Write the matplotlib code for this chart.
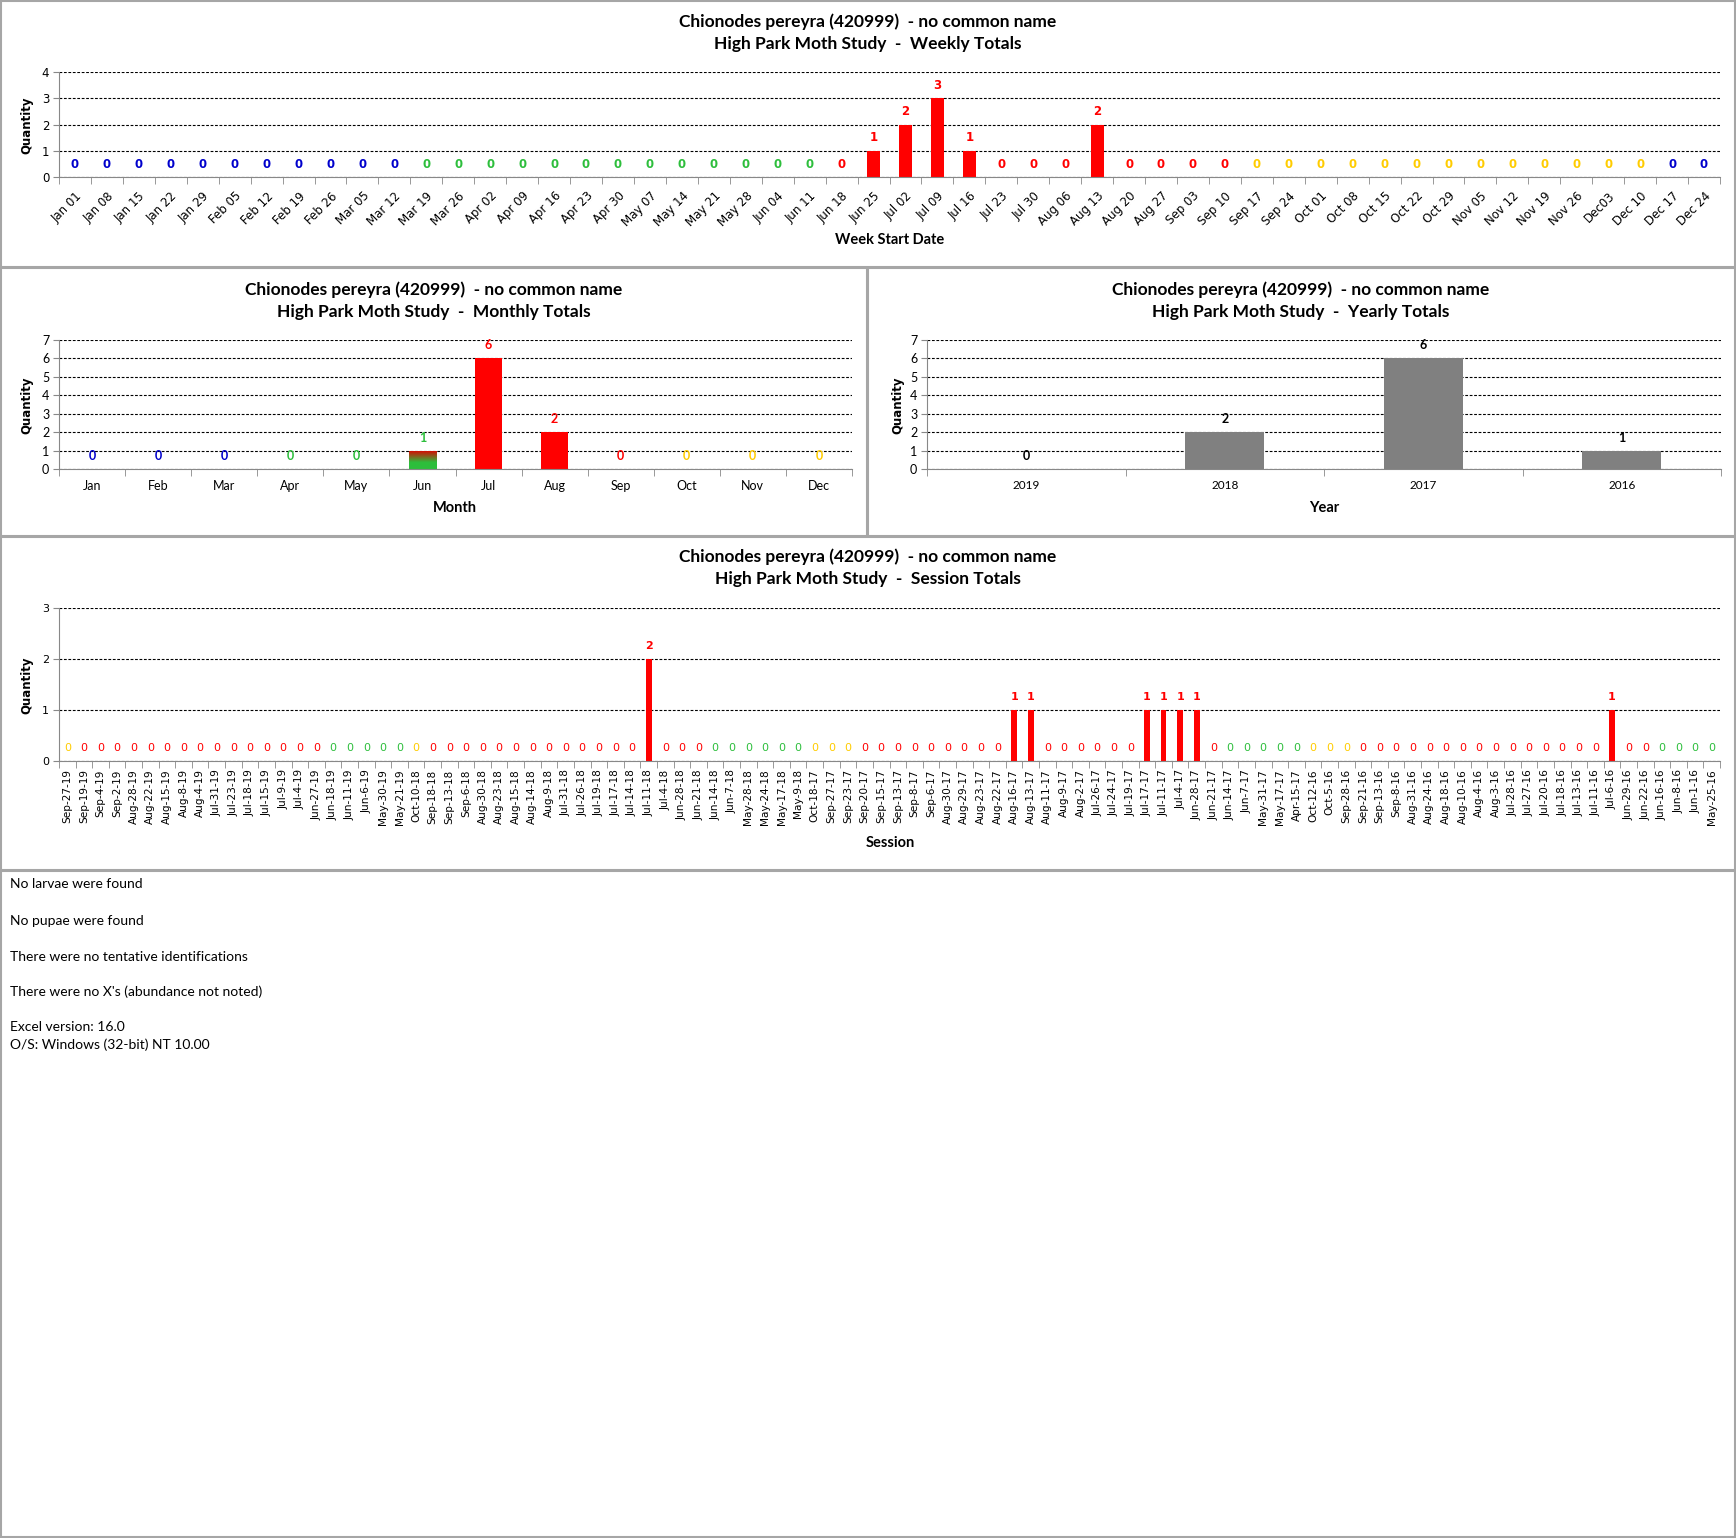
import matplotlib
matplotlib.use("Agg")
import matplotlib.pyplot as plt
import numpy as np
from matplotlib.patches import Rectangle
from matplotlib.colors import LinearSegmentedColormap

# ---- data ----
species = "Chionodes pereyra (420999)  - no common name"
study = "High Park Moth Study  -  "

weeks = ["Jan 01", "Jan 08", "Jan 15", "Jan 22", "Jan 29", "Feb 05", "Feb 12", "Feb 19",
         "Feb 26", "Mar 05", "Mar 12", "Mar 19", "Mar 26", "Apr 02", "Apr 09", "Apr 16",
         "Apr 23", "Apr 30", "May 07", "May 14", "May 21", "May 28", "Jun 04", "Jun 11",
         "Jun 18", "Jun 25", "Jul 02", "Jul 09", "Jul 16", "Jul 23", "Jul 30", "Aug 06",
         "Aug 13", "Aug 20", "Aug 27", "Sep 03", "Sep 10", "Sep 17", "Sep 24", "Oct 01",
         "Oct 08", "Oct 15", "Oct 22", "Oct 29", "Nov 05", "Nov 12", "Nov 19", "Nov 26",
         "Dec03", "Dec 10", "Dec 17", "Dec 24"]
week_counts = [0] * 25 + [1, 2, 3, 1, 0, 0, 0, 2] + [0] * 19

months = ["Jan", "Feb", "Mar", "Apr", "May", "Jun", "Jul", "Aug", "Sep", "Oct", "Nov", "Dec"]
month_counts = [0, 0, 0, 0, 0, 1, 6, 2, 0, 0, 0, 0]

years = ["2019", "2018", "2017", "2016"]
year_counts = [0, 2, 6, 1]

sessions = ["Sep-27-19", "Sep-19-19", "Sep-4-19", "Sep-2-19", "Aug-28-19", "Aug-22-19",
            "Aug-15-19", "Aug-8-19", "Aug-4-19", "Jul-31-19", "Jul-23-19", "Jul-18-19",
            "Jul-15-19", "Jul-9-19", "Jul-4-19", "Jun-27-19", "Jun-18-19", "Jun-11-19",
            "Jun-6-19", "May-30-19", "May-21-19", "Oct-10-18", "Sep-18-18", "Sep-13-18",
            "Sep-6-18", "Aug-30-18", "Aug-23-18", "Aug-15-18", "Aug-14-18", "Aug-9-18",
            "Jul-31-18", "Jul-26-18", "Jul-19-18", "Jul-17-18", "Jul-14-18", "Jul-11-18",
            "Jul-4-18", "Jun-28-18", "Jun-21-18", "Jun-14-18", "Jun-7-18", "May-28-18",
            "May-24-18", "May-17-18", "May-9-18", "Oct-18-17", "Sep-27-17", "Sep-23-17",
            "Sep-20-17", "Sep-15-17", "Sep-13-17", "Sep-8-17", "Sep-6-17", "Aug-30-17",
            "Aug-29-17", "Aug-23-17", "Aug-22-17", "Aug-16-17", "Aug-13-17", "Aug-11-17",
            "Aug-9-17", "Aug-2-17", "Jul-26-17", "Jul-24-17", "Jul-19-17", "Jul-17-17",
            "Jul-11-17", "Jul-4-17", "Jun-28-17", "Jun-21-17", "Jun-14-17", "Jun-7-17",
            "May-31-17", "May-17-17", "Apr-15-17", "Oct-12-16", "Oct-5-16", "Sep-28-16",
            "Sep-21-16", "Sep-13-16", "Sep-8-16", "Aug-31-16", "Aug-24-16", "Aug-18-16",
            "Aug-10-16", "Aug-4-16", "Aug-3-16", "Jul-28-16", "Jul-27-16", "Jul-20-16",
            "Jul-18-16", "Jul-13-16", "Jul-11-16", "Jul-6-16", "Jun-29-16", "Jun-22-16",
            "Jun-16-16", "Jun-8-16", "Jun-1-16", "May-25-16"]
session_hits = {"Jul-11-18": 2, "Aug-16-17": 1, "Aug-13-17": 1, "Jul-17-17": 1,
                "Jul-11-17": 1, "Jul-4-17": 1, "Jun-28-17": 1, "Jul-6-16": 1}
session_counts = [session_hits.get(s, 0) for s in sessions]

notes = ["No larvae were found", "No pupae were found",
         "There were no tentative identifications",
         "There were no X's (abundance not noted)",
         "Excel version: 16.0", "O/S: Windows (32-bit) NT 10.00"]

# ---- season colours ----
BLUE, GREEN, RED, YELLOW = "#0000CC", "#2DBE3C", "#FF0000", "#FFCC00"
MNUM = {m: i + 1 for i, m in enumerate(months)}


def season(m, d):
    md = m * 100 + d
    if md < 320 or md >= 1221:
        return BLUE
    if md < 621:
        return GREEN
    if md < 923:
        return RED
    return YELLOW


def week_colour(lbl):
    m = MNUM[lbl[:3]]
    d = int(lbl[3:]) + 6
    days = [31, 28, 31, 30, 31, 30, 31, 31, 30, 31, 30, 31][m - 1]
    if d > days:
        m, d = m + 1, d - days
    return season(m, d)


def session_colour(lbl):
    m, d, _ = lbl.split("-")
    return season(MNUM[m], int(d))


week_cols = [week_colour(w) for w in weeks]
month_cols = [season(i + 1, 15) for i in range(12)]
session_cols = [session_colour(s) for s in sessions]

# ---- figure ----
W, H = 1736, 1538
fig = plt.figure(figsize=(W / 100, H / 100), dpi=100)
TITLE_FONT = "Lato"
TICK_FONT = "DejaVu Sans"
TITLE_SIZE = 12.5


def rect(x0, y0, x1, y1):
    return [x0 / W, 1 - y1 / H, (x1 - x0) / W, (y1 - y0) / H]


def ftext(x, y, s, **kw):
    fig.text(x / W, 1 - y / H, s, **kw)


# panel borders
for (x0, y0, x1, y1) in [(1, 1, 1735, 267), (1, 268, 867, 536), (868, 268, 1735, 536),
                         (1, 537, 1735, 870), (1, 871, 1735, 1537)]:
    fig.patches.append(Rectangle((x0 / W, 1 - y1 / H), (x1 - x0) / W, (y1 - y0) / H,
                                 transform=fig.transFigure, fill=False,
                                 edgecolor="#A6A6A6", lw=1.5))


def style_axes(ax, n, ymax, labels, label_kw, tick_kw):
    ax.set_xlim(-0.5, n - 0.5)
    ax.set_ylim(0, ymax)
    for s in ["top", "right"]:
        ax.spines[s].set_visible(False)
    for s in ["left", "bottom"]:
        ax.spines[s].set_color("#888888")
        ax.spines[s].set_zorder(4)
    ax.set_yticks(range(ymax + 1))
    ax.yaxis.grid(True, color="black", linestyle=(0, (2.5, 1.5)), lw=0.8)
    ax.set_axisbelow(True)
    ax.set_xticks(range(n))
    ax.set_xticklabels(labels, **label_kw)
    ax.set_xticks(np.arange(-0.5, n), minor=True)
    ax.tick_params(axis="x", which="major", length=0, **tick_kw)
    ax.tick_params(axis="x", which="minor", length=5, color="#888888", direction="out")
    ax.tick_params(axis="y", length=4, color="#888888", pad=3)


def value_labels(ax, counts, cols, bold_zero=True, **kw):
    for i, (v, c) in enumerate(zip(counts, cols)):
        weight = "bold" if (v or bold_zero) else "normal"
        ax.annotate(str(v), (i, v), xytext=(0, 13), textcoords="offset pixels",
                    ha="center", va="center", color=c, fontweight=weight, **kw)


def titles(x, y, kind):
    ftext(x, y, species, ha="center", va="center", fontsize=TITLE_SIZE,
          fontweight="bold", family=TITLE_FONT)
    ftext(x, y + 22, study + kind, ha="center", va="center", fontsize=TITLE_SIZE,
          fontweight="bold", family=TITLE_FONT)


def ylabel(x, y):
    ftext(x, y, "Quantity", ha="center", va="center", rotation=90, fontsize=8.5,
          fontweight="bold", family=TICK_FONT)


# weekly
ax = fig.add_axes(rect(59, 72, 1720, 177))
ax.bar(range(len(weeks)), week_counts, width=0.4, color=week_cols, zorder=3)
style_axes(ax, len(weeks), 4, weeks,
           dict(rotation=45, ha="right", rotation_mode="anchor",
                fontsize=8.5, family=TICK_FONT), dict(pad=9))
for t in ax.get_yticklabels():
    t.set_fontsize(8.5)
value_labels(ax, week_counts, week_cols, fontsize=8.5, family=TICK_FONT)
titles(868, 22, "Weekly Totals")
ftext(890, 240, "Week Start Date", ha="center", va="center", fontsize=10.5,
      fontweight="bold", family=TITLE_FONT)
ylabel(27, 125)

# monthly
ax = fig.add_axes(rect(59, 340, 852, 469))
mbars = ax.bar(range(12), month_counts, width=0.41, color=month_cols, zorder=3)
grad = LinearSegmentedColormap.from_list("gr", [(0, GREEN), (0.35, GREEN), (1.0, "#E00000")])
for i, b in enumerate(mbars):
    if month_counts[i] and months[i] in ("Mar", "Jun", "Sep", "Dec"):
        im = ax.imshow(np.linspace(0, 1, 100).reshape(-1, 1), cmap=grad, origin="lower",
                       extent=[b.get_x(), b.get_x() + b.get_width(), 0, b.get_height()],
                       aspect="auto", zorder=3.5)
        im.set_clip_path(b)
style_axes(ax, 12, 7, months, dict(fontsize=9, family=TITLE_FONT), dict(pad=8))
for t in ax.get_yticklabels():
    t.set_fontsize(9)
    t.set_family(TITLE_FONT)
value_labels(ax, month_counts, month_cols, fontsize=9, family=TITLE_FONT)
titles(434, 290, "Monthly Totals")
ftext(455, 508, "Month", ha="center", va="center", fontsize=10.5, fontweight="bold",
      family=TITLE_FONT)
ylabel(27, 405)

# yearly
ax = fig.add_axes(rect(927, 340, 1721, 469))
ax.bar(range(4), year_counts, width=0.4, color="#808080", zorder=3)
style_axes(ax, 4, 7, years, dict(fontsize=8.5, family=TITLE_FONT), dict(pad=8))
for t in ax.get_yticklabels():
    t.set_fontsize(9)
    t.set_family(TITLE_FONT)
value_labels(ax, year_counts, ["black"] * 4, fontsize=9, family=TITLE_FONT)
titles(1301, 290, "Yearly Totals")
ftext(1324, 508, "Year", ha="center", va="center", fontsize=10.5, fontweight="bold",
      family=TITLE_FONT)
ylabel(898, 405)

# sessions
ax = fig.add_axes(rect(59, 608, 1720, 761))
ax.bar(range(len(sessions)), session_counts, width=0.35, color=session_cols, zorder=3)
style_axes(ax, len(sessions), 3, sessions,
           dict(rotation=90, fontsize=7.6, family=TICK_FONT), dict(pad=6))
for t in ax.get_yticklabels():
    t.set_fontsize(8)
value_labels(ax, session_counts, session_cols, bold_zero=False, fontsize=8,
             family=TICK_FONT)
titles(868, 557, "Session Totals")
ftext(890, 843, "Session", ha="center", va="center", fontsize=10.5, fontweight="bold",
      family=TITLE_FONT)
ylabel(27, 685)

# notes
for s, y in zip(notes, [884, 921, 957, 992, 1027, 1045]):
    ftext(10, y, s, ha="left", va="center", fontsize=10, family=TITLE_FONT)

fig.savefig("out.png", dpi=100)
